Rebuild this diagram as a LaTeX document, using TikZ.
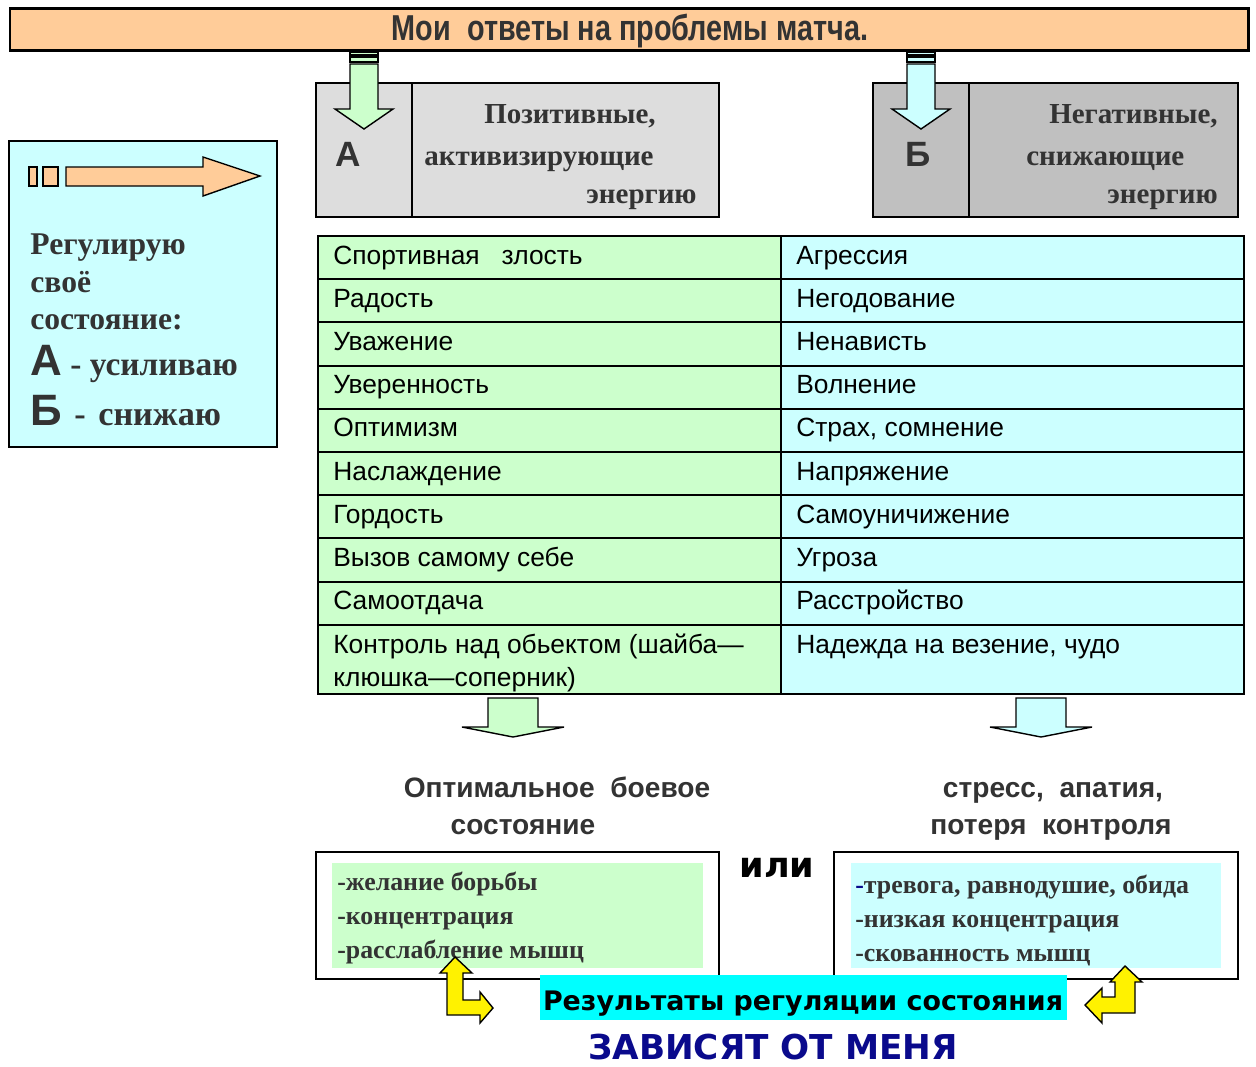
\documentclass[tikz,border=0pt]{standalone}
\usepackage{fontspec}
\setmainfont{Liberation Serif}
\newfontfamily\arialfont{Liberation Sans}
\newfontfamily\narrowfont[FakeStretch=0.8]{Liberation Sans}
\newfontfamily\roundfont{DejaVu Sans}
\usetikzlibrary{positioning}

\definecolor{peach}{HTML}{FFCC99}
\definecolor{lgreen}{HTML}{CCFFCC}
\definecolor{lcyan}{HTML}{CCFFFF}
\definecolor{greyA}{HTML}{DDDDDD}
\definecolor{greyB}{HTML}{C0C0C0}
\definecolor{brightcyan}{HTML}{00FFFF}
\definecolor{txtgray}{HTML}{333333}
\definecolor{navyblue}{HTML}{0A0A8C}

\begin{document}
\begin{tikzpicture}[
    x=0.02cm, y=-0.02cm,
    frame/.style={draw=black,line width=1.1pt},
    celltext/.style={anchor=base west,inner sep=0pt,font=\arialfont\fontsize{15}{17}\selectfont},
    serifhead/.style={inner sep=0pt,text=txtgray,font=\bfseries\fontsize{16.5}{18}\selectfont},
    letter/.style={inner sep=0pt,text=txtgray,font=\arialfont\bfseries\fontsize{20}{22}\selectfont},
    result/.style={anchor=base west,inner sep=0pt,text=txtgray,font=\bfseries\fontsize{14.7}{16}\selectfont},
    outcome/.style={anchor=base,inner sep=0pt,text=txtgray,font=\arialfont\bfseries\fontsize{16}{18}\selectfont},
    blockarrow/.style={draw=black,line width=0.8pt,line join=miter},
]
\useasboundingbox (0,0) rectangle (1256,1066);

% === Title bar ===
\draw[frame,fill=peach,line width=1.7pt] (10,8) rectangle (1248,50);
\node[anchor=base,inner sep=0pt,text=txtgray,font=\narrowfont\bfseries\fontsize{20.5}{22}\selectfont]
    (title) at (630,40) {Мои\ \ ответы на проблемы матча.};

% === Box A: positive ===
\draw[frame,fill=greyA] (316,83) rectangle (719,217);
\draw[frame] (412,83) -- (412,217);
\node[letter,anchor=base] (letA) at (348,166) {А};
\node[serifhead,anchor=base] (pos1) at (570,123) {Позитивные,};
\node[serifhead,anchor=base west] (pos2) at (424,165) {активизирующие};
\node[serifhead,anchor=base east] (pos3) at (697,203) {энергию};
\begin{scope}[shift={(364,0)}]
    \draw[blockarrow,fill=lgreen] (-14,52) rectangle (14,55);
    \draw[blockarrow,fill=lgreen] (-14,57) rectangle (14,62);
    \draw[blockarrow,fill=lgreen] (-14,64) -- (14,64) -- (14,109) -- (29,109)
        -- (0,129) -- (-29,109) -- (-14,109) -- cycle;
\end{scope}

% === Box B: negative ===
\draw[frame,fill=greyB] (873,83) rectangle (1238,217);
\draw[frame] (969,83) -- (969,217);
\node[letter,anchor=base] (letB) at (918,166) {Б};
\node[serifhead,anchor=base east] (neg1) at (1218,123) {Негативные,};
\node[serifhead,anchor=base west] (neg2) at (1026,165) {снижающие};
\node[serifhead,anchor=base east] (neg3) at (1218,203) {энергию};
\begin{scope}[shift={(921,0)}]
    \draw[blockarrow,fill=lcyan] (-14,52) rectangle (14,55);
    \draw[blockarrow,fill=lcyan] (-14,57) rectangle (14,62);
    \draw[blockarrow,fill=lcyan] (-14,64) -- (14,64) -- (14,109) -- (29,109)
        -- (0,129) -- (-29,109) -- (-14,109) -- cycle;
\end{scope}

% === Legend box ===
\draw[frame,fill=lcyan] (9,141) rectangle (277,447);
\draw[blockarrow,fill=peach] (29,167) rectangle (37,186);
\draw[blockarrow,fill=peach] (43,167) rectangle (58,186);
\draw[blockarrow,fill=peach] (66,167) -- (203,167) -- (203,157) -- (260,176)
    -- (203,196) -- (203,186) -- (66,186) -- cycle;
\node[serifhead,anchor=base west,font=\bfseries\fontsize{18}{20}\selectfont] (reg1) at (30,254) {Регулирую};
\node[serifhead,anchor=base west,font=\bfseries\fontsize{18}{20}\selectfont] (reg2) at (30,292) {своё};
\node[serifhead,anchor=base west,font=\bfseries\fontsize{18}{20}\selectfont] (reg3) at (30,329) {состояние:};
\node[serifhead,anchor=base west,font=\bfseries\fontsize{19}{21}\selectfont] (reg4) at (30,375)
    {{\arialfont\fontsize{25}{27}\selectfont А} - усиливаю};
\node[serifhead,anchor=base west,font=\bfseries\fontsize{19.5}{21}\selectfont] (reg5) at (30,425)
    {{\arialfont\fontsize{25}{27}\selectfont Б}\hspace{0.25cm}-\hspace{0.25cm}снижаю};

% === Table ===
\foreach \p/\q [count=\i from 0] in {Спортивная\ \ \ злость/Агрессия, Радость/Негодование,
    Уважение/Ненависть, Уверенность/Волнение, Оптимизм/{Страх, сомнение},
    Наслаждение/Напряжение, Гордость/Самоуничижение, Вызов самому себе/Угроза,
    Самоотдача/Расстройство}{
    \pgfmathsetmacro{\t}{236+43.2*\i}
    \draw[frame,fill=lgreen] (318,\t) rectangle (781,\t+43.2);
    \draw[frame,fill=lcyan] (781,\t) rectangle (1244,\t+43.2);
    \node[celltext] (pos-\i) at (333,\t+28) {\p};
    \node[celltext] (neg-\i) at (796,\t+28) {\q};
}
\draw[frame,fill=lgreen] (318,625) rectangle (781,694);
\draw[frame,fill=lcyan] (781,625) rectangle (1244,694);
\node[celltext] (pos-9) at (333,653) {Контроль над обьектом (шайба—};
\node[celltext] (pos-9b) at (333,686) {клюшка—соперник)};
\node[celltext] (neg-9) at (796,653) {Надежда на везение, чудо};

% === Outcomes ===
\begin{scope}[shift={(513,0)}]
    \draw[blockarrow,fill=lgreen] (-25,698) -- (25,698) -- (25,727) -- (51,727)
        -- (0,737) -- (-51,727) -- (-25,727) -- cycle;
\end{scope}
\begin{scope}[shift={(1041,0)}]
    \draw[blockarrow,fill=lcyan] (-25,698) -- (25,698) -- (25,727) -- (51,727)
        -- (0,737) -- (-51,727) -- (-25,727) -- cycle;
\end{scope}
\node[outcome] (opt1) at (557,797) {Оптимальное\ \ боевое};
\node[outcome] (opt2) at (523,834) {состояние};
\node[outcome] (str1) at (1053,797) {стресс,\ \ апатия,};
\node[outcome] (str2) at (1051,834) {потеря\ \ контроля};

% === Result boxes ===
\draw[frame,fill=white] (316,852) rectangle (719,979);
\fill[lgreen] (332,863) rectangle (703,968);
\node[result] (good1) at (337,890) {-желание борьбы};
\node[result] (good2) at (337,924) {-концентрация};
\node[result] (good3) at (337,958) {-расслабление мышц};

\node[anchor=base,inner sep=0pt,font=\roundfont\bfseries\fontsize{20}{22}\selectfont] (ili) at (777,877) {или};

\draw[frame,fill=white] (834,852) rectangle (1238,979);
\fill[lcyan] (851,863) rectangle (1221,968);
\node[result] (bad1) at (855,893) {{\color{navyblue}-}тревога, равнодушие, обида};
\node[result] (bad2) at (855,927) {-низкая концентрация};
\node[result] (bad3) at (855,961) {-скованность мышц};

% === Conclusion ===
\fill[brightcyan] (540,975) rectangle (1067,1020);
\node[anchor=base,inner sep=0pt,font=\roundfont\bfseries\fontsize{15.3}{17}\selectfont] (res) at (803,1010)
    {Результаты регуляции состояния};
\node[anchor=base,inner sep=0pt,text=navyblue,font=\roundfont\bfseries\fontsize{19.5}{21}\selectfont] (dep) at (773,1059)
    {ЗАВИСЯТ ОТ МЕНЯ};
\draw[blockarrow,fill=yellow] (455,957) -- (472,973) -- (463,973) -- (463,1000) -- (480,1000)
    -- (480,992) -- (493,1008) -- (480,1023) -- (480,1015) -- (447,1015) -- (447,973)
    -- (440,973) -- cycle;
\draw[blockarrow,fill=yellow] (1125,966) -- (1142,982) -- (1135,982) -- (1135,1013)
    -- (1102,1013) -- (1102,1023) -- (1085,1005) -- (1102,988) -- (1102,997) -- (1115,997)
    -- (1115,982) -- (1110,982) -- cycle;
\end{tikzpicture}
\end{document}
